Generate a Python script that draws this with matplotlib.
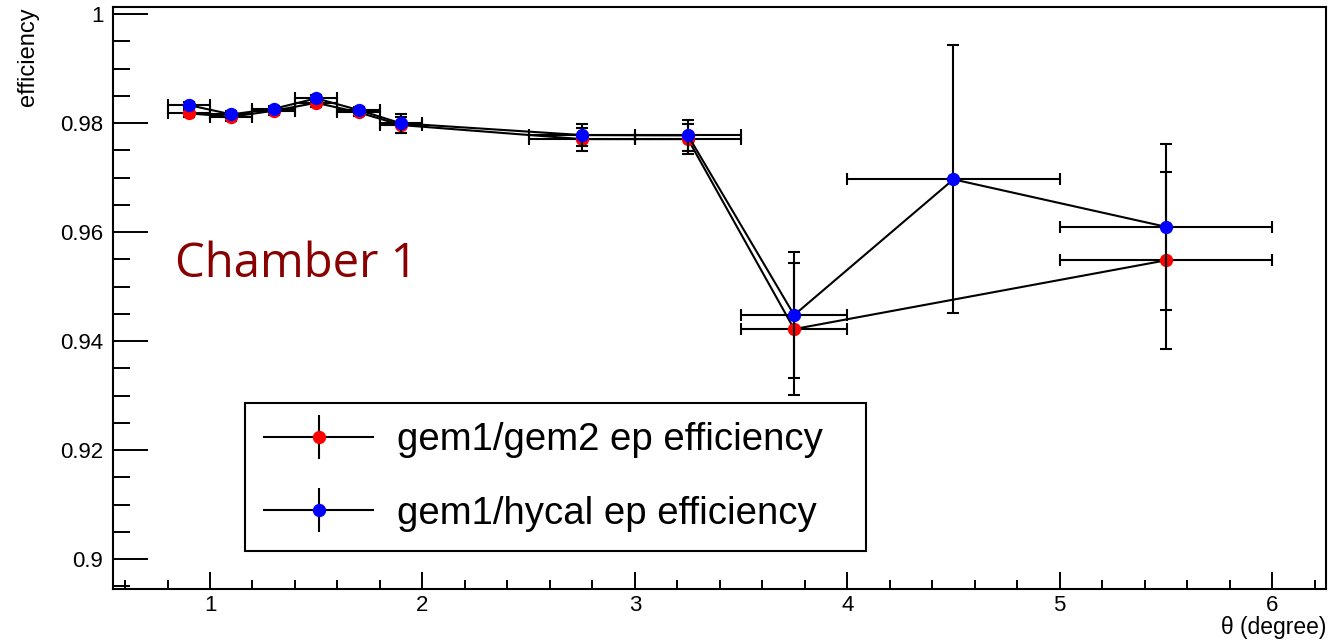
import matplotlib
matplotlib.use('Agg')
import matplotlib.pyplot as plt
from matplotlib.lines import Line2D
from matplotlib.legend_handler import HandlerTuple
from matplotlib.ticker import MultipleLocator, FuncFormatter

# ---- data: gem1/gem2 ep efficiency (red) ----
theta_g2 = [0.9, 1.1, 1.3, 1.5, 1.7, 1.9, 2.75, 3.25, 3.75, 5.5]
dtheta_g2 = [0.1, 0.1, 0.1, 0.1, 0.1, 0.1, 0.25, 0.25, 0.25, 0.5]
eff_g2 = [0.98178, 0.98116, 0.98226, 0.98372, 0.98196, 0.97963, 0.97706, 0.97706, 0.94220, 0.95481]
err_g2 = [0.0007, 0.0007, 0.0007, 0.0008, 0.0007, 0.0015, 0.0021, 0.0028, 0.01206, 0.0162]

# ---- data: gem1/hycal ep efficiency (blue) ----
theta_hc = [0.9, 1.1, 1.3, 1.5, 1.7, 1.9, 2.75, 3.25, 3.75, 4.5, 5.5]
dtheta_hc = [0.1, 0.1, 0.1, 0.1, 0.1, 0.1, 0.25, 0.25, 0.25, 0.5, 0.5]
eff_hc = [0.98330, 0.98160, 0.98262, 0.98453, 0.98239, 0.97994, 0.97780, 0.97774, 0.94477, 0.96967, 0.96097]
err_hc = [0.0006, 0.0006, 0.0006, 0.0007, 0.0006, 0.0017, 0.00196, 0.0029, 0.01162, 0.0246, 0.01523]

label_g2 = 'gem1/gem2 ep efficiency'
label_hc = 'gem1/hycal ep efficiency'
y_ticks = [0.9, 0.92, 0.94, 0.96, 0.98, 1.0]
x_ticks = [1, 2, 3, 4, 5, 6]

plt.rcParams['font.family'] = ['Liberation Sans', 'DejaVu Sans']

W, H = 1334, 644
fig = plt.figure(figsize=(W / 100, H / 100), dpi=100)
ax = fig.add_axes([113 / W, 55 / H, (1326 - 113) / W, 582 / H])

lw = 1.5
ms = 9.6
series = [
    (theta_g2, dtheta_g2, eff_g2, err_g2, 'red', 2),
    (theta_hc, dtheta_hc, eff_hc, err_hc, 'blue', 5),
]
for x, dx, y, dy, col, z in series:
    ax.errorbar(x, y, xerr=dx, yerr=dy, fmt='none', ecolor='black', elinewidth=lw,
                capsize=4.0, capthick=lw, zorder=z)
    ax.plot(x, y, '-', color='black', lw=lw, zorder=z + 1)
    ax.plot(x, y, 'o', color=col, ms=ms, mew=0, zorder=z + 2)

ax.set_xlim(0.5433, 6.254)
ax.set_ylim(0.8945, 1.0013)

ax.set_xticks(x_ticks)
ax.set_yticks(y_ticks)
ax.xaxis.set_minor_locator(MultipleLocator(0.2))
ax.yaxis.set_minor_locator(MultipleLocator(0.005))
ax.yaxis.set_major_formatter(FuncFormatter(lambda v, p: '%g' % round(v, 4)))
ax.xaxis.set_major_formatter(FuncFormatter(lambda v, p: '%g' % v))

ax.tick_params(axis='both', which='both', direction='in', width=1.4, labelsize=16)
ax.tick_params(axis='y', which='major', length=25, pad=7)
ax.tick_params(axis='y', which='minor', length=12.3)
ax.tick_params(axis='x', which='major', length=12.2, pad=4)
ax.tick_params(axis='x', which='minor', length=6.5)
for s in ax.spines.values():
    s.set_linewidth(1.5)

ax.set_ylabel('efficiency', fontsize=17, loc='top')
ax.yaxis.set_label_coords(-0.061, 1.0)
ax.set_xlabel('θ (degree)', fontsize=16.5, loc='right')
ax.xaxis.set_label_coords(1.0, -0.046)

ax.text((175 - 113) / 1213, (589 - 277) / 582, 'Chamber 1', transform=ax.transAxes,
        fontsize=34, color='#880000', family=['Open Sans', 'DejaVu Sans'],
        ha='left', va='baseline')

def handle(col):
    return (Line2D([], [], color='black', lw=lw),
            Line2D([], [], ls='none', marker='|', ms=31, mec='black', mew=lw),
            Line2D([], [], ls='none', marker='o', ms=ms, color=col, mew=0))

leg = ax.legend([handle('red'), handle('blue')], [label_g2, label_hc],
                handler_map={tuple: HandlerTuple(ndivide=1)},
                bbox_to_anchor=(245 / W, 1 - 551 / H, (866 - 245) / W, (551 - 404) / H),
                bbox_transform=fig.transFigure, loc='lower left', mode='expand',
                borderaxespad=0, fontsize=27.6, handlelength=2.85, handletextpad=0.62,
                borderpad=0.5, labelspacing=0.98, fancybox=False, framealpha=1,
                edgecolor='black')
leg.get_frame().set_linewidth(1.5)

fig.savefig('out.png', dpi=100)
